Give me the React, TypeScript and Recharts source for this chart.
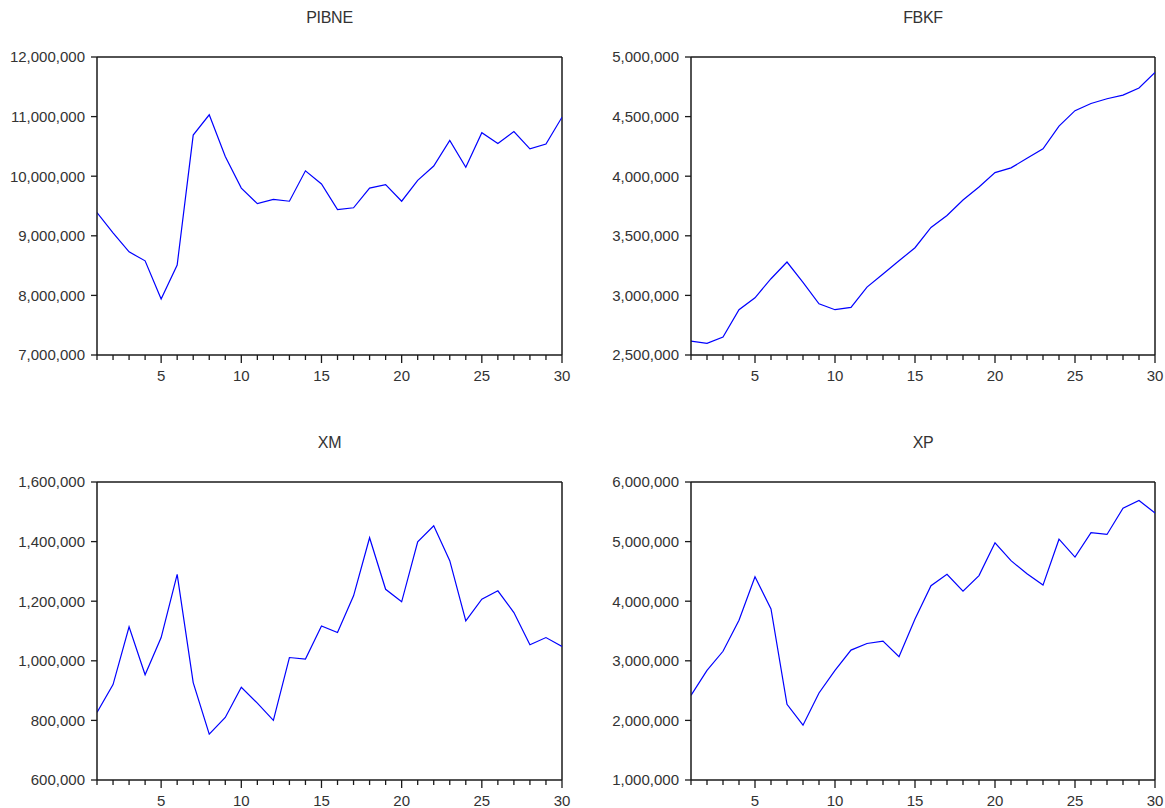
import React from "react";
import { LineChart, Line, XAxis, YAxis, CartesianGrid } from "recharts";

const PERIODS = Array.from({ length: 30 }, (_, i) => i + 1);

const PIBNE = [
  9390000, 9050000, 8730000, 8580000, 7940000, 8510000, 10690000, 11030000, 10330000, 9800000,
  9540000, 9610000, 9580000, 10090000, 9870000, 9440000, 9470000, 9800000, 9860000, 9580000,
  9930000, 10170000, 10600000, 10150000, 10730000, 10550000, 10750000, 10460000, 10540000, 10990000,
];

const FBKF = [
  2617000, 2598000, 2650000, 2880000, 2980000, 3140000, 3280000, 3110000, 2930000, 2880000,
  2900000, 3070000, 3180000, 3290000, 3400000, 3570000, 3670000, 3800000, 3910000, 4030000,
  4070000, 4150000, 4230000, 4420000, 4550000, 4610000, 4650000, 4680000, 4740000, 4870000,
];

const XM = [
  827000, 920000, 1114000, 953000, 1078000, 1290000, 927000, 754000, 810000, 911000,
  858000, 800000, 1011000, 1006000, 1117000, 1095000, 1218000, 1413000, 1240000, 1198000,
  1399000, 1453000, 1336000, 1134000, 1207000, 1235000, 1162000, 1054000, 1078000, 1048000,
];

const XP = [
  2420000, 2840000, 3160000, 3680000, 4410000, 3870000, 2270000, 1920000, 2460000, 2840000,
  3180000, 3290000, 3330000, 3070000, 3700000, 4260000, 4450000, 4170000, 4430000, 4980000,
  4680000, 4460000, 4270000, 5040000, 4740000, 5150000, 5120000, 5560000, 5690000, 5480000,
];

const PIBNE_TICKS = [7000000, 8000000, 9000000, 10000000, 11000000, 12000000];
const FBKF_TICKS = [2500000, 3000000, 3500000, 4000000, 4500000, 5000000];
const XM_TICKS = [600000, 800000, 1000000, 1200000, 1400000, 1600000];
const XP_TICKS = [1000000, 2000000, 3000000, 4000000, 5000000, 6000000];

const FONT = "'Liberation Sans', Arial, sans-serif";
const TEXT = "#333333";
const AXIS = "#1a1a1a";

const fmt = (v: number) => v.toLocaleString("en-US");

const XTick = (props: any) => {
  const { x, y, payload } = props;
  const major = payload.value % 5 === 0;
  return (
    <g>
      <line x1={x} y1={y} x2={x} y2={y + (major ? 8 : 5)} stroke={AXIS} strokeWidth={1.3} />
      {major && (
        <text x={x} y={y + 26} textAnchor="middle" fill={TEXT} fontSize={15} fontFamily={FONT}>
          {payload.value}
        </text>
      )}
    </g>
  );
};

// frame: one grid line along the top edge, one along the right edge
const topEdge = ({ offset }: any) => [offset.top];
const rightEdge = ({ offset }: any) => [offset.left + offset.width];

type PanelProps = {
  title: string;
  values: number[];
  ticks: number[];
  left: number;
  top: number;
  width: number;
  axisWidth: number;
  right: number;
};

function Panel({ title, values, ticks, left, top, width, axisWidth, right }: PanelProps) {
  const data = PERIODS.map((p, i) => ({ period: p, value: values[i] }));
  const plotW = width - axisWidth - right;
  return (
    <div style={{ position: "absolute", left, top, width, height: 400 }}>
      <div
        style={{
          position: "absolute",
          left: axisWidth,
          width: plotW,
          top: 8,
          height: 20,
          lineHeight: "20px",
          textAlign: "center",
          fontSize: 16,
          color: TEXT,
          fontFamily: FONT,
          letterSpacing: -0.3,
        }}
      >
        {title}
      </div>
      <LineChart
        width={width}
        height={400}
        data={data}
        margin={{ top: 57, right, bottom: 15, left: 0 }}
      >
        <CartesianGrid
          stroke={AXIS}
          strokeWidth={1.5}
          horizontalCoordinatesGenerator={topEdge}
          verticalCoordinatesGenerator={rightEdge}
        />
        <XAxis
          dataKey="period"
          type="number"
          domain={[1, 30]}
          ticks={PERIODS}
          interval={0}
          height={30}
          tickSize={0}
          tickMargin={0}
          tickLine={false}
          tick={<XTick />}
          axisLine={{ stroke: AXIS, strokeWidth: 1.5 }}
          allowDataOverflow
        />
        <YAxis
          type="number"
          domain={[ticks[0], ticks[ticks.length - 1]]}
          ticks={ticks}
          interval={0}
          width={axisWidth}
          tickSize={6}
          tickMargin={6}
          tickLine={{ stroke: AXIS, strokeWidth: 1.3 }}
          axisLine={{ stroke: AXIS, strokeWidth: 1.5 }}
          tick={{ fill: TEXT, fontSize: 15, fontFamily: FONT }}
          tickFormatter={fmt}
          allowDataOverflow
        />
        <Line
          type="linear"
          dataKey="value"
          stroke="#0000ff"
          strokeWidth={1.2}
          dot={false}
          isAnimationActive={false}
        />
      </LineChart>
    </div>
  );
}

export default function App() {
  return (
    <div
      style={{
        position: "absolute",
        left: 0,
        top: 0,
        width: 1165,
        height: 808,
        background: "#ffffff",
        overflow: "hidden",
      }}
    >
      <Panel title="PIBNE" values={PIBNE} ticks={PIBNE_TICKS} left={0} top={0} width={580} axisWidth={97} right={18} />
      <Panel title="FBKF" values={FBKF} ticks={FBKF_TICKS} left={590} top={0} width={575} axisWidth={101} right={10} />
      <Panel title="XM" values={XM} ticks={XM_TICKS} left={0} top={425} width={580} axisWidth={97} right={18} />
      <Panel title="XP" values={XP} ticks={XP_TICKS} left={590} top={425} width={575} axisWidth={101} right={10} />
    </div>
  );
}
